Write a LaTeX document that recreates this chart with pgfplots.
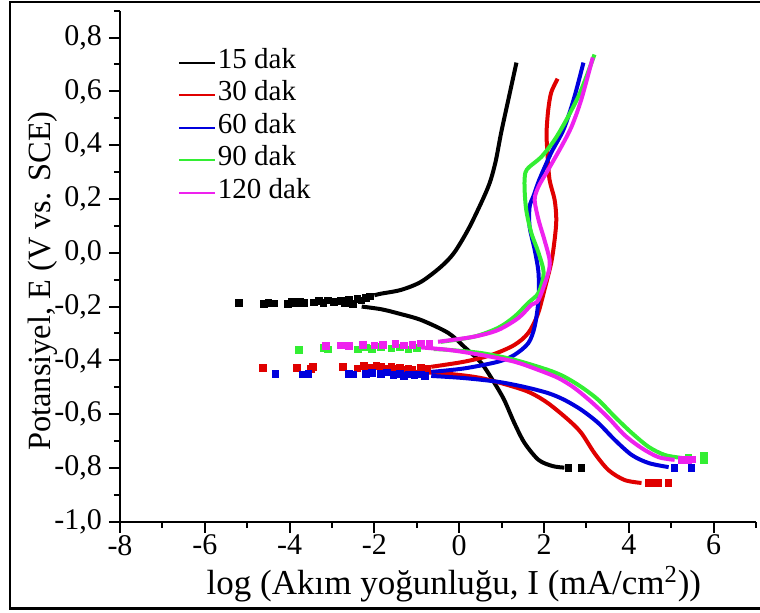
\documentclass[border=0pt]{standalone}
\usepackage{fontspec}
\setmainfont{Liberation Serif}
\usepackage{pgfplots}
\pgfplotsset{compat=1.18}

\definecolor{c15}{HTML}{000000}
\definecolor{c30}{HTML}{E00000}
\definecolor{c60}{HTML}{0000DD}
\definecolor{c90}{HTML}{33EE33}
\definecolor{c120}{HTML}{EE22EE}

\begin{document}
\begin{tikzpicture}
\begin{axis}[
    scale only axis,
    width=318pt, height=255.5pt,
    xmin=-8, xmax=7, ymin=-1, ymax=0.9,
    axis x line*=bottom, axis y line*=left,
    axis line style={line width=1pt},
    tick align=outside,
    major tick length=5.5pt, minor tick length=3pt,
    every tick/.style={line width=1pt, black},
    xtick={-8,-6,-4,-2,0,2,4,6},
    minor xtick={-7,-5,-3,-1,1,3,5,7},
    ytick={-1,-0.8,-0.6,-0.4,-0.2,0,0.2,0.4,0.6,0.8},
    minor ytick={-0.9,-0.7,-0.5,-0.3,-0.1,0.1,0.3,0.5,0.7,0.9},
    /pgf/number format/assume math mode=true,
    tick label style={font=\fontsize{15}{17}\selectfont},
    xticklabel style={inner sep=1pt},
    yticklabel style={/pgf/number format/.cd, fixed, fixed zerofill, precision=1, use comma},
    xlabel={log (Akım yoğunluğu, I (mA/cm\textsuperscript{2}))},
    ylabel={Potansiyel, E (V vs. SCE)},
    xlabel style={font=\fontsize{17.5}{19}\selectfont, inner sep=0pt,
        at={(axis description cs:0.525,-0.122)}, anchor=center},
    ylabel style={font=\fontsize{16.2}{18}\selectfont, inner sep=0pt,
        at={(axis description cs:-0.122,0.471)}, anchor=center},
    unbounded coords=jump,
    legend cell align=left,
    legend image code/.code={\draw[#1, line width=1pt] (0pt,0pt) -- (18pt,0pt);},
    legend style={draw=none, fill=none, at={(axis description cs:0.081,0.939)}, anchor=north west,
        font=\fontsize{14.5}{16}\selectfont, row sep=0pt,
        nodes={inner sep=1pt, text height=10pt, text depth=4.25pt}},
    every axis plot/.append style={line width=2pt},
    dots/.style={only marks, mark=square*, mark size=0.9pt, forget plot},
]

% 15 dak
\addplot[c15, smooth] coordinates {
    (2.48,-0.799) (2.2,-0.793) (1.87,-0.77) (1.54,-0.707) (1.30,-0.633) (1.06,-0.547)
    (0.83,-0.484) (0.52,-0.41) (0.12,-0.35) (-0.26,-0.298) (-0.9,-0.25) (-1.45,-0.225)
    (-1.84,-0.21) (-2.3,-0.2)
    (nan,nan)
    (-2.0,-0.158) (-1.84,-0.152) (-1.37,-0.138) (-0.9,-0.108) (-0.43,-0.052) (-0.12,0.0)
    (0.21,0.086) (0.52,0.186) (0.72,0.26) (0.86,0.34) (0.99,0.447) (1.16,0.57) (1.35,0.707)
};
\addlegendentry{15 dak}
\addplot[c15, dots] coordinates {
    (2.58,-0.80) (2.88,-0.80) (-5.2,-0.187) (-4.6,-0.19) (-4.5,-0.186) (-4.37,-0.188)
    (-4.04,-0.19) (-3.95,-0.184) (-3.85,-0.188) (-3.75,-0.182) (-3.66,-0.186) (-3.43,-0.185)
    (-3.3,-0.18) (-3.2,-0.186) (-3.1,-0.178) (-2.95,-0.182) (-2.79,-0.18) (-2.7,-0.186)
    (-2.6,-0.175) (-2.5,-0.19) (-2.4,-0.172) (-2.3,-0.178) (-2.2,-0.168) (-2.1,-0.162)
};

% 30 dak
\addplot[c30, smooth] coordinates {
    (4.3,-0.856) (3.9,-0.845) (3.52,-0.808) (3.19,-0.745) (2.88,-0.67) (2.58,-0.622)
    (2.1,-0.56) (1.7,-0.522) (1.3,-0.499) (0.52,-0.466) (-0.26,-0.45) (-1.06,-0.443)
    (nan,nan)
    (-0.66,-0.424) (0.12,-0.405) (0.76,-0.38) (1.3,-0.343) (1.63,-0.298) (1.85,-0.23)
    (2.01,-0.138) (2.17,-0.037) (2.25,0.048) (2.29,0.123) (2.25,0.197) (2.13,0.272)
    (2.08,0.372) (2.06,0.447) (2.1,0.532) (2.17,0.596) (2.32,0.647)
};
\addlegendentry{30 dak}
\addplot[c30, dots] coordinates {
    (4.47,-0.856) (4.58,-0.856) (4.7,-0.856) (4.94,-0.856) (-4.63,-0.428) (-3.83,-0.428)
    (-3.5,-0.432) (-3.45,-0.425) (-2.74,-0.425) (-2.4,-0.43) (-2.25,-0.422) (-2.1,-0.428)
    (-1.95,-0.42) (-1.84,-0.425) (-1.7,-0.43) (-1.6,-0.425) (-1.5,-0.432) (-1.4,-0.428)
    (-1.3,-0.435) (-1.2,-0.43) (-1.1,-0.435) (-0.9,-0.428) (-0.75,-0.43)
};

% 60 dak
\addplot[c60, smooth] coordinates {
    (4.94,-0.797) (4.47,-0.782) (4.07,-0.752) (3.67,-0.696) (3.28,-0.633) (2.88,-0.584)
    (2.48,-0.547) (2.1,-0.522) (1.54,-0.499) (0.92,-0.48) (0.12,-0.466) (-0.66,-0.458)
    (nan,nan)
    (-0.66,-0.443) (0.12,-0.43) (0.92,-0.405) (1.3,-0.38) (1.63,-0.336) (1.78,-0.274)
    (1.87,-0.175) (1.87,-0.075) (1.78,0.011) (1.66,0.097) (1.66,0.171) (1.75,0.21)
    (1.89,0.272) (2.17,0.372) (2.46,0.458) (2.7,0.57) (2.93,0.707)
};
\addlegendentry{60 dak}
\addplot[c60, dots] coordinates {
    (5.08,-0.80) (5.48,-0.80) (-4.33,-0.45) (-3.7,-0.452) (-3.55,-0.45) (-2.6,-0.45)
    (-2.5,-0.452) (-2.2,-0.45) (-2.05,-0.447) (-1.84,-0.45) (-1.7,-0.445) (-1.55,-0.455)
    (-1.4,-0.45) (-1.3,-0.458) (-1.2,-0.452) (-1.05,-0.455) (-0.9,-0.452) (-0.8,-0.458)
};

% 90 dak
\addplot[c90, smooth] coordinates {
    (5.25,-0.763) (4.85,-0.752) (4.47,-0.722) (4.07,-0.67) (3.67,-0.61) (3.28,-0.547)
    (2.88,-0.499) (2.48,-0.461) (2.1,-0.436) (1.3,-0.398) (0.52,-0.373) (-0.26,-0.361)
    (-0.6,-0.358)
    (nan,nan)
    (-0.43,-0.331) (0.35,-0.312) (0.92,-0.279) (1.3,-0.238) (1.63,-0.186) (1.87,-0.149)
    (1.99,-0.075) (1.87,0.0) (1.70,0.074) (1.58,0.16) (1.54,0.246) (1.56,0.298)
    (1.66,0.32) (1.94,0.357) (2.25,0.42) (2.53,0.495) (2.81,0.581) (3.0,0.655) (3.19,0.737)
};
\addlegendentry{90 dak}
\addplot[c90, dots] coordinates {
    (5.41,-0.763) (5.77,-0.77) (5.77,-0.755) (-3.78,-0.361) (-3.19,-0.354) (-3.1,-0.36)
    (-2.39,-0.36) (-2.2,-0.352) (-2.05,-0.358) (-1.84,-0.35) (-1.6,-0.356) (-1.4,-0.352)
    (-1.2,-0.36) (-1.0,-0.355)
};

% 120 dak
\addplot[c120, smooth] coordinates {
    (5.08,-0.77) (4.7,-0.76) (4.3,-0.726) (3.9,-0.678) (3.52,-0.614) (3.12,-0.555)
    (2.72,-0.503) (2.34,-0.466) (1.87,-0.436) (1.3,-0.405) (0.52,-0.38) (-0.26,-0.361)
    (-1.06,-0.35)
    (nan,nan)
    (-0.5,-0.331) (0.35,-0.312) (0.92,-0.287) (1.4,-0.242) (1.7,-0.194) (1.87,-0.175)
    (2.1,-0.075) (2.13,-0.026) (2.01,0.048) (1.87,0.123) (1.78,0.197) (1.87,0.246)
    (2.1,0.309) (2.41,0.395) (2.65,0.469) (2.88,0.57) (3.15,0.726)
};
\addlegendentry{120 dak}
\addplot[c120, dots] coordinates {
    (5.25,-0.77) (5.4,-0.77) (5.5,-0.768) (-3.14,-0.346) (-2.79,-0.345) (-2.6,-0.346)
    (-2.27,-0.343) (-2.0,-0.345) (-1.8,-0.342) (-1.5,-0.34) (-1.3,-0.345) (-1.1,-0.342)
    (-0.9,-0.338) (-0.7,-0.34)
};
\end{axis}
% frame around the figure, open on the right as in the source
\draw[line width=1.2pt] (322pt,259.85pt) -- (-55pt,259.85pt) -- (-55pt,-43.4pt) -- (322pt,-43.4pt);
\pgfresetboundingbox
\useasboundingbox (-60pt,-45.15pt) rectangle (320pt,260.85pt);
\end{tikzpicture}
\end{document}
